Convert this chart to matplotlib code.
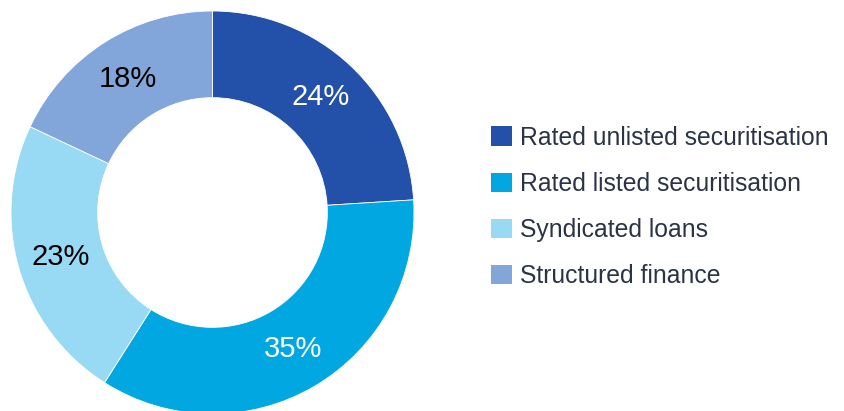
import matplotlib.pyplot as plt
from matplotlib.patches import Patch

labels = ['Rated unlisted securitisation', 'Rated listed securitisation',
          'Syndicated loans', 'Structured finance']
shares = [24, 35, 23, 18]
colors = ['#2350A8', '#00A7E1', '#98DAF3', '#82A5DA']
pct_colors = ['white', 'white', 'black', 'black']

plt.rcParams['font.family'] = ['Liberation Sans', 'DejaVu Sans']

fig = plt.figure(figsize=(8.44, 4.11), dpi=100)
W, H = 844, 411
cx, cy, r = 212.5, 212.5, 201.5
ax = fig.add_axes([(cx - r) / W, (H - cy - r) / H, 2 * r / W, 2 * r / H])

wedges, texts, autotexts = ax.pie(
    shares, colors=colors, startangle=90, counterclock=False,
    wedgeprops=dict(width=0.43, edgecolor='white', linewidth=0.6),
    autopct='%d%%', pctdistance=0.785, radius=1)
for t, c in zip(autotexts, pct_colors):
    t.set_color(c)
    t.set_fontsize(21)
ax.set_xlim(-1, 1)
ax.set_ylim(-1, 1)
ax.set_aspect('equal')
ax.axis('off')

handles = [Patch(facecolor=c, edgecolor='none') for c in colors]
fig.legend(handles, labels, loc='center left', bbox_to_anchor=(484 / W, 1 - 207 / H),
           frameon=False, fontsize=17.8, handlelength=0.82, handleheight=0.82,
           handletextpad=0.35, labelspacing=0.9, labelcolor='#2B3445',
           borderaxespad=0, borderpad=0.3)

fig.savefig('out.png', dpi=100)
